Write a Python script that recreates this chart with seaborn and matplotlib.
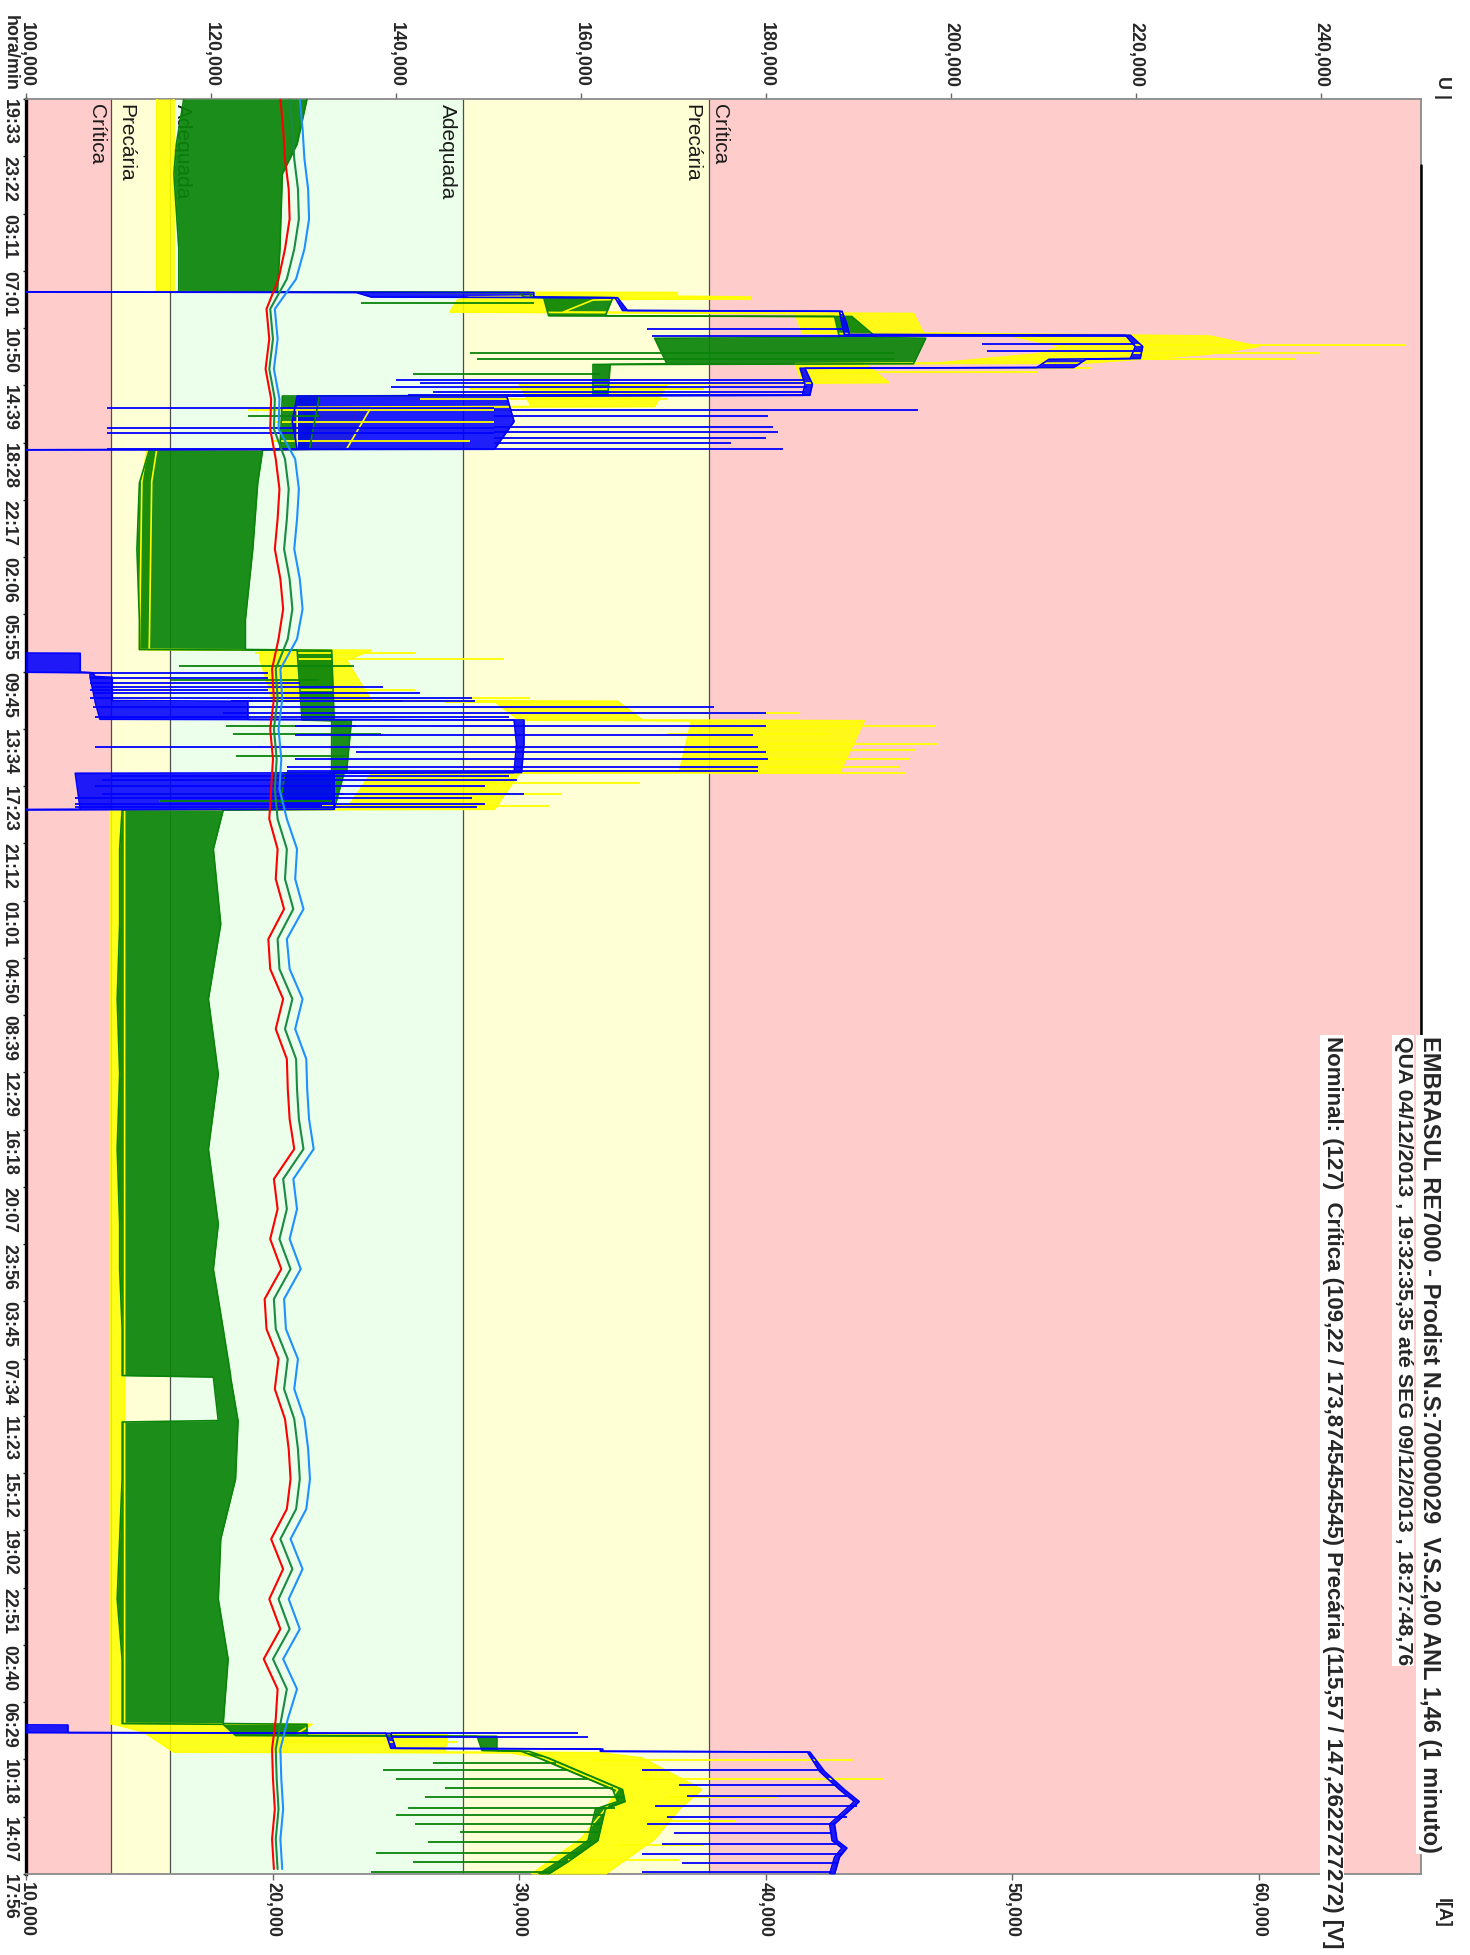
import numpy as np
import pandas as pd
import matplotlib
matplotlib.use('Agg')
import matplotlib.pyplot as plt
import seaborn as sns

# ---- time axis (hours since 04/12/2013 19:32) ----
T_END = 118.33
time_labels = ["19:33", "23:22", "03:11", "07:01", "10:50", "14:39", "18:28", "22:17",
               "02:06", "05:55", "09:45", "13:34", "17:23", "21:12", "01:01", "04:50",
               "08:39", "12:29", "16:18", "20:07", "23:56", "03:45", "07:34", "11:23",
               "15:12", "19:02", "22:51", "02:40", "06:29", "10:18", "14:07", "17:56"]

# ---- voltage zones (Prodist, nominal 127 V) ----
zone_edges = [100, 109.22, 115.57, 147.26, 173.87, 250.81]
zone_colors = ['#FFCCCC', '#FFFFD6', '#EBFFEB', '#FFFFD6', '#FFCCCC']
zone_names = [('Crítica', 107.6), ('Precária', 110.8), ('Adequada', 116.9),
              ('Adequada', 145.6), ('Precária', 172.0), ('Crítica', 175.0)]

u_ticks = [100, 120, 140, 160, 180, 200, 220, 240]
i_ticks = [10, 20, 30, 40, 50, 60]

# ---- phase voltages [V], every 2 h ----
t_volt = [0, 2, 4, 6, 8, 10, 12, 14, 16, 18, 20, 22, 24, 26, 28, 30, 32, 34, 36, 38,
          40, 42, 44, 46, 48, 50, 52, 54, 56, 58, 60, 62, 64, 66, 68, 70, 72, 74, 76, 78,
          80, 82, 84, 86, 88, 90, 92, 94, 96, 98, 100, 102, 104, 106, 108, 110, 112, 114, 116, 118]
u_red = [127.5, 127.8, 128.0, 128.4, 128.5, 128.0, 127.3, 126.0, 126.3, 125.9,
         126.5, 126.4, 127.0, 127.4, 127.2, 126.9, 127.5, 127.8, 127.3, 126.6,
         126.8, 126.4, 126.7, 126.5, 126.3, 127.2, 127.0, 127.9, 126.2, 126.4,
         127.8, 127.0, 128.2, 128.3, 128.5, 129.0, 126.8, 127.2, 126.4, 127.6,
         125.8, 126.0, 127.3, 126.9, 128.0, 128.4, 128.6, 128.2, 126.5, 127.8,
         126.3, 127.5, 125.7, 127.2, 127.0, 126.6, 126.7, 126.9, 126.6, 126.8]
u_green = [128.5, 128.8, 129.0, 129.4, 129.5, 129.0, 128.2, 126.4, 126.7, 126.3,
           126.9, 126.8, 128.0, 128.4, 128.2, 127.9, 128.5, 128.8, 128.3, 127.0,
           127.2, 126.8, 127.1, 126.9, 127.2, 128.2, 128.0, 128.9, 127.2, 127.4,
           128.8, 128.0, 129.2, 129.3, 129.5, 130.0, 127.8, 128.2, 127.4, 128.6,
           126.8, 127.0, 128.3, 127.9, 129.0, 129.4, 129.6, 129.2, 127.5, 128.8,
           127.3, 128.5, 126.7, 128.2, 127.6, 127.0, 127.1, 127.3, 127.0, 127.2]
u_blue = [129.6, 129.9, 130.1, 130.5, 130.6, 130.1, 129.2, 126.9, 127.2, 126.8,
          127.4, 127.3, 129.1, 129.5, 129.3, 129.0, 129.6, 129.9, 129.3, 127.5,
          127.7, 127.3, 127.6, 127.4, 128.2, 129.3, 129.1, 130.0, 128.2, 128.5,
          129.9, 129.1, 130.3, 130.4, 130.6, 131.1, 128.9, 129.3, 128.5, 129.7,
          127.9, 128.1, 129.4, 129.0, 130.1, 130.5, 130.7, 130.3, 128.6, 129.9,
          128.4, 129.6, 127.8, 129.3, 128.3, 127.5, 127.6, 127.8, 127.5, 127.7]

# ---- phase currents [A]: envelope (low/high) of the 1-minute trace ----
t_yel = [0, 12.85, 12.9, 13.15, 13.2, 13.4, 14.2, 14.3, 15.6, 15.8,
         16.5, 17.0, 17.6, 17.65, 18.9, 19.0, 20.5, 20.55, 23.35, 23.4,
         25.5, 36.7, 36.75, 37.4, 40.1, 40.15, 41.4, 41.45, 44.9, 44.95,
         47.35, 47.4, 108.3, 108.35, 108.95, 109.0, 110.2, 110.25, 110.6, 112.7,
         114.0, 116.0, 118.33]
yel_lo = [15.3, 15.3, 30.6, 30.6, 28.0, 27.5, 27.2, 41.2, 41.5, 50.0,
          52.0, 51.0, 47.0, 41.2, 41.5, 30.0, 30.5, 21.0, 21.0, 14.9,
          14.7, 14.6, 19.5, 19.5, 20.0, 29.0, 30.0, 37.0, 36.5, 24.0,
          23.0, 13.4, 13.4, 13.6, 15.0, 14.9, 16.0, 29.6, 31.0, 34.0,
          33.5, 32.5, 30.5]
yel_hi = [16.0, 16.0, 36.4, 36.4, 39.4, 33.0, 31.8, 46.0, 46.4, 58.0,
          60.0, 58.0, 53.0, 44.0, 45.0, 36.0, 35.5, 24.0, 23.0, 15.3,
          15.1, 15.0, 24.0, 23.0, 24.0, 34.0, 35.0, 44.0, 43.0, 30.0,
          29.0, 14.0, 14.0, 21.6, 21.0, 27.1, 27.0, 33.3, 35.0, 37.4,
          36.5, 35.5, 33.5]

t_grn = [0, 3.0, 5.0, 10.0, 12.85, 12.9, 13.2, 13.25, 14.45, 14.5,
         15.9, 15.95, 17.65, 17.7, 19.75, 19.8, 23.35, 23.4, 25.6, 30.0,
         34.7, 36.7, 36.75, 41.4, 41.45, 44.9, 44.95, 47.35, 47.4, 50.0,
         55.0, 60.0, 65.0, 70.0, 75.0, 78.0, 82.0, 85.1, 85.2, 88.1,
         88.2, 92.0, 96.0, 100.0, 104.0, 108.3, 108.35, 109.1, 109.15, 110.1,
         110.15, 110.6, 112.7, 113.5, 114.0, 116.1, 117.5, 118.33]
grn_lo = [16.4, 16.1, 16.0, 16.2, 16.2, 30.0, 30.2, 31.0, 31.2, 42.8,
          43.0, 35.5, 36.0, 33.0, 33.0, 20.4, 20.3, 15.0, 14.6, 14.5,
          14.6, 14.6, 21.0, 21.2, 22.4, 22.4, 20.5, 20.3, 13.9, 13.8,
          13.8, 13.7, 13.8, 13.7, 13.8, 13.8, 13.9, 13.9, 17.6, 17.8,
          13.9, 13.9, 13.8, 13.7, 13.9, 13.9, 18.0, 18.5, 28.3, 28.5,
          30.1, 30.8, 33.8, 34.0, 33.1, 32.8, 31.6, 30.8]
grn_hi = [21.4, 21.0, 20.4, 20.3, 20.2, 30.4, 30.5, 33.8, 33.5, 43.5,
          44.5, 46.5, 46.0, 33.7, 33.6, 21.9, 21.5, 19.6, 19.4, 19.2,
          18.9, 18.9, 22.4, 22.5, 23.2, 23.0, 22.9, 22.5, 18.0, 17.6,
          17.9, 17.4, 17.8, 17.4, 17.8, 17.6, 18.0, 18.3, 18.3, 18.6,
          18.6, 18.5, 17.9, 17.8, 18.2, 18.0, 21.4, 21.4, 29.1, 29.1,
          30.4, 31.2, 34.2, 34.3, 33.5, 33.2, 32.0, 31.2]

t_blu = [0, 12.85, 12.9, 13.2, 13.25, 14.1, 14.15, 15.0, 15.7, 15.75,
         16.5, 17.3, 17.35, 17.9, 17.95, 19.0, 19.75, 19.8, 21.5, 23.35,
         23.4, 36.9, 36.95, 38.2, 38.25, 38.5, 38.55, 40.1, 40.15, 41.35,
         41.4, 43.0, 44.9, 44.95, 47.35, 47.4, 108.35, 108.4, 108.9, 108.95,
         109.95, 110.0, 110.15, 110.2, 111.5, 112.7, 113.5, 114.1, 115.0, 116.1,
         116.6, 117.2, 118.33]
blu_lo = [5, 5, 23.4, 24.0, 33.9, 34.2, 43.0, 43.1, 43.2, 54.6,
          55.0, 54.8, 51.5, 51.0, 41.4, 41.6, 41.5, 21.0, 20.8, 21.0,
          5, 5, 9.0, 9.0, 12.6, 12.6, 12.6, 12.8, 12.8, 13.0,
          29.8, 29.9, 29.8, 12.0, 12.2, 5, 5, 9.0, 9.0, 24.6,
          24.8, 33.3, 33.3, 41.7, 42.2, 43.0, 43.6, 43.2, 42.6, 42.7,
          43.1, 42.8, 42.6]
blu_hi = [5, 5, 30.6, 30.6, 34.0, 34.4, 43.1, 43.3, 43.4, 54.8,
          55.3, 55.2, 53.0, 52.5, 41.6, 41.9, 41.8, 29.5, 29.8, 29.0,
          5, 5, 12.2, 12.2, 12.7, 12.8, 13.5, 13.5, 19.0, 19.0,
          30.2, 30.2, 30.1, 22.5, 22.5, 5, 5, 11.7, 11.7, 24.8,
          25.0, 33.4, 33.4, 41.8, 42.4, 43.2, 43.8, 43.4, 42.8, 42.9,
          43.3, 43.0, 42.8]

# ---- single-sample excursions (time, from, to) ----
yel_spk_t = [13.35, 16.4, 16.9, 17.3, 17.9, 18.2, 19.3, 20.0, 20.7, 21.5,
             22.8, 36.95, 37.35, 39.4, 39.95, 40.2, 40.9, 41.8, 42.3, 43.0,
             43.4, 44.0, 44.5, 44.9, 45.6, 46.3, 47.1, 109.5, 110.7, 112.0,
             113.2, 114.8, 116.4, 117.4]
yel_spk_a = [33.9, 55.0, 52.0, 50.0, 45.0, 42.0, 28.0, 26.0, 19.0, 20.0,
             20.0, 19.3, 21.0, 21.0, 27.0, 27.0, 35.0, 40.0, 36.0, 40.0,
             40.0, 38.0, 40.0, 38.0, 27.0, 25.0, 22.0, 20.0, 33.0, 35.0,
             36.0, 35.0, 34.0, 32.0]
yel_spk_b = [39.4, 66.0, 62.5, 61.5, 53.2, 51.0, 37.5, 36.0, 29.9, 29.0,
             28.0, 25.8, 29.4, 25.8, 30.4, 33.0, 41.4, 46.9, 42.6, 47.0,
             46.1, 45.8, 45.4, 45.7, 34.9, 31.7, 31.2, 27.5, 43.6, 44.8,
             40.5, 38.8, 37.5, 36.5]

grn_spk_t = [13.6, 16.9, 17.3, 18.3, 21.1, 37.8, 38.7, 40.1, 41.8, 42.3,
             43.8, 45.4, 46.3, 46.8, 110.9, 111.4, 112.0, 112.6, 113.2, 113.9,
             114.4, 115.0, 115.5, 116.2, 116.9, 117.5, 118.2]
grn_spk_a = [23.6, 28.0, 28.3, 25.7, 19.0, 16.2, 15.9, 18.3, 18.1, 18.4,
             18.5, 16.7, 15.4, 15.4, 26.5, 24.5, 25.0, 27.0, 26.2, 25.5,
             25.0, 25.8, 27.6, 26.3, 24.2, 25.7, 24.0]
grn_spk_b = [30.6, 45.2, 45.2, 33.3, 21.9, 23.3, 21.9, 25.3, 23.4, 24.4,
             23.0, 22.4, 22.9, 22.4, 31.5, 32.0, 32.8, 33.8, 34.2, 33.9,
             33.4, 33.3, 33.2, 32.9, 32.5, 32.0, 31.2]

blu_spk_t = [15.3, 15.8, 16.3, 16.8, 18.7, 18.9, 19.2, 19.5, 19.7, 20.6,
             20.7, 21.1, 21.85, 21.96, 22.2, 22.25, 22.6, 22.96, 23.3,
             38.24, 38.6, 38.95, 39.2, 39.4, 39.6, 39.9, 40.1, 40.5, 40.9,
             41.2, 41.8, 42.4, 43.2, 43.5, 44.0, 44.5, 44.8, 45.1, 45.4,
             45.8, 46.3, 46.6, 47.0, 47.2,
             108.96, 109.2, 111.4, 112.4, 113.1, 113.8, 114.5, 115.0, 115.6, 116.3,
             117.0, 117.6, 118.2]
blu_spk_a = [35.2, 35.4, 48.8, 49.0, 25.0, 26.0, 24.8, 26.5, 25.5, 13.3,
             29.0, 29.0, 29.0, 13.3, 29.0, 13.3, 29.0, 29.0, 13.3,
             12.6, 12.6, 12.6, 12.7, 12.6, 12.7, 12.6, 18.3, 12.7, 18.0,
             12.8, 20.9, 20.9, 12.8, 23.4, 20.9, 20.6, 20.6, 13.5, 13.1,
             12.8, 13.1, 12.0, 12.0, 12.0,
             24.8, 24.8, 35.0, 36.5, 36.8, 35.5, 36.0, 35.2, 36.3, 35.8,
             35.0, 36.6, 35.0]
blu_spk_b = [43.2, 54.7, 55.0, 55.2, 41.5, 41.6, 41.7, 41.6, 41.8, 29.0,
             46.2, 40.1, 40.3, 29.0, 40.5, 29.0, 40.0, 38.6, 40.7,
             19.8, 19.8, 21.1, 24.5, 19.8, 26.0, 28.1, 28.2, 37.9, 40.0,
             29.6, 40.0, 39.5, 39.7, 40.0, 40.1, 39.7, 39.7, 29.6, 29.9,
             28.6, 30.2, 28.1, 28.6, 28.3,
             32.4, 32.8, 42.3, 42.9, 43.3, 43.7, 43.3, 42.8, 42.7, 43.0,
             43.1, 42.9, 42.7]

title1 = "EMBRASUL RE7000 - Prodist N.S:70000029  V.S.2,00 ANL 1,46 (1 minuto)"
title2 = "QUA 04/12/2013 , 19:32:35,35 até SEG 09/12/2013 , 18:27:48,76"
title3 = ("Nominal: (127)  Crítica (109,22 / 173,8745454545) "
          "Precária (115,57 / 147,2622727272) [V]")

sns.set_theme(style='white')
plt.rcParams['font.family'] = ['Liberation Sans', 'DejaVu Sans']

W, H = 1470, 1955
fig = plt.figure(figsize=(W / 100, H / 100), dpi=100)
ax = fig.add_axes([26 / W, 1 - 1874 / H, 1395 / W, 1775 / H])
ax_i = ax.twiny()
ax_u = ax.twiny()

# background zones
for lo, hi, c in zip(zone_edges[:-1], zone_edges[1:], zone_colors):
    ax.axvspan(lo, hi, color=c, lw=0, zorder=0)
for b in zone_edges[1:-1]:
    ax.axvline(b, color='#4d4d4d', lw=0.9, zorder=1)
for name, u in zone_names:
    ax.text(u, 0.3, name, rotation=-90, ha='center', va='top',
            fontsize=15, color='#1a1a1a', zorder=2)

# currents
fmt = lambda v: f"{v:.3f}".replace('.', ',')
series = [(t_yel, yel_lo, yel_hi, yel_spk_t, yel_spk_a, yel_spk_b, '#FFFF00', 0.88),
          (t_grn, grn_lo, grn_hi, grn_spk_t, grn_spk_a, grn_spk_b, '#0A840A', 0.93),
          (t_blu, blu_lo, blu_hi, blu_spk_t, blu_spk_a, blu_spk_b, '#0000FF', 0.88)]
for t, lo, hi, st, sa, sb, c, alpha in series:
    ax_i.fill_betweenx(t, lo, hi, color=c, alpha=alpha, lw=0)
    ax_i.plot(lo, t, color=c, lw=1.2)
    ax_i.plot(hi, t, color=c, lw=1.2)
    ax_i.hlines(st, sa, sb, color=c, lw=1.3)

# voltages
df_volt = pd.DataFrame({'t': t_volt, 'red': u_red, 'green': u_green, 'blue': u_blue})
for col, c in [('red', '#FF0000'), ('green', '#1B8A45'), ('blue', '#1E90FF')]:
    sns.lineplot(data=df_volt, x=col, y='t', orient='y', estimator=None,
                 color=c, lw=1.5, ax=ax_u)

# axes setup
ax.set_xlim(zone_edges[0], zone_edges[-1])
ax_u.set_xlim(zone_edges[0], zone_edges[-1])
ax_i.set_xlim(10, 66.59)
ax.set_ylim(T_END, 0)

ax.xaxis.tick_top()
ax.set_xticks(u_ticks)
ax.set_xticklabels([fmt(v) for v in u_ticks], rotation=-90, fontsize=12.9,
                   fontweight='bold')
ax.tick_params(axis='x', which='both', top=True, bottom=False, length=4,
               width=1, color='#666666', pad=5)

ax_i.xaxis.set_ticks_position('bottom')
ax_i.set_xticks(i_ticks)
ax_i.set_xticklabels([fmt(v) for v in i_ticks], rotation=-90, fontsize=12.9,
                     fontweight='bold')
ax_i.tick_params(axis='x', which='both', bottom=True, top=False, length=4,
                 width=1, color='#666666', pad=2)

tick_pos = np.linspace(0, T_END, len(time_labels))
ax.set_yticks(tick_pos)
ax.set_yticklabels(time_labels, rotation=-90, va='top', ha='right',
                   fontsize=12.9, fontweight='bold')
ax.tick_params(axis='y', left=True, length=2, width=1, pad=4)

ax_u.set_xticks([])
for a in (ax, ax_i, ax_u):
    a.set_xlabel('')
    a.set_ylabel('')
    a.grid(False)
for a in (ax_i, ax_u):
    for s in a.spines.values():
        s.set_visible(False)
ax.spines['left'].set_color('black')
ax.spines['left'].set_linewidth(2.4)
for s in ('top', 'bottom', 'right'):
    ax.spines[s].set_color('#8a8a8a')
    ax.spines[s].set_linewidth(1.3)

# right border markers (axes fraction, measured from the bottom)
ax.plot([1, 1], [0.035, 0.963], transform=ax.transAxes, color='black', lw=1.8,
        clip_on=False, zorder=5)
ax.plot([1, 1], [0.025, 0.035], transform=ax.transAxes, color='red', lw=1.8,
        clip_on=False, zorder=5)
ax.plot([1, 1], [0.016, 0.025], transform=ax.transAxes, color='blue', lw=1.8,
        clip_on=False, zorder=5)

# texts
fig.text(10 / W, 1 - 15 / H, 'hora/min', rotation=-90, ha='center', va='top',
         fontsize=12.9, fontweight='bold')
fig.text(1443 / W, 1 - 76 / H, 'U |', rotation=-90, ha='center', va='top',
         fontsize=12.9, fontweight='bold')
fig.text(1442 / W, 1 - 1898 / H, 'I[A]', rotation=-90, ha='center', va='top',
         fontsize=12.9, fontweight='bold')
box = dict(facecolor='white', edgecolor='none', pad=1.0)
fig.text(1429 / W, 1 - 1036 / H, title1, rotation=-90, ha='center', va='top',
         fontsize=17, fontweight='bold', bbox=box)
fig.text(1403 / W, 1 - 1036 / H, title2, rotation=-90, ha='center', va='top',
         fontsize=15.4, fontweight='bold', bbox=box)
fig.text(1332 / W, 1 - 1036 / H, title3, rotation=-90, ha='center', va='top',
         fontsize=16.0, fontweight='bold', bbox=box)

fig.savefig('out.png', dpi=100)
